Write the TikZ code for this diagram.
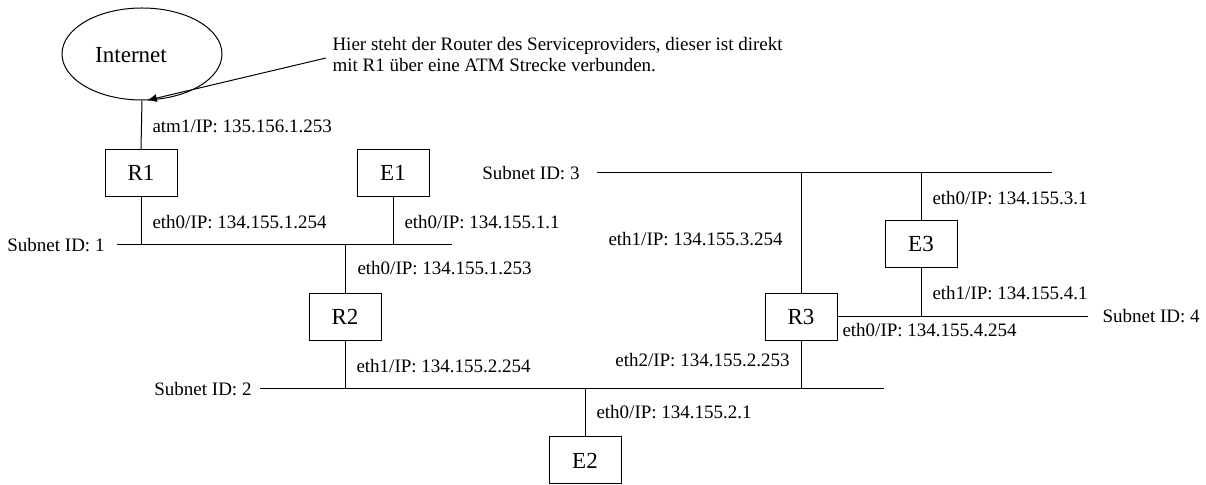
\documentclass[tikz,border=0pt]{standalone}
\usepackage{fontspec}
\setmainfont{Liberation Serif}
\usetikzlibrary{shapes.geometric,arrows.meta}

\newlength{\du}
\setlength{\du}{0.5pt}

\tikzset{
  hostbox/.style={draw, minimum width=72\du, minimum height=47\du, inner sep=0pt,
    font=\fontsize{11.5}{13}\selectfont},
  netcloud/.style={draw, ellipse, minimum width=160\du, minimum height=92\du, inner sep=0pt},
  bigtext/.style={inner sep=0pt, font=\fontsize{11.5}{13}\selectfont},
  iflabel/.style={inner sep=0pt, font=\fontsize{9.5}{10.5}\selectfont},
}

\begin{document}
\begin{tikzpicture}[line width=0.5pt]
\pgftransformxscale{1.000000}
\pgftransformyscale{-1.000000}
\useasboundingbox (0\du,0\du) rectangle (1206\du,485\du);
% internet and note
\node[netcloud] (inet) at (142\du,54\du){};
\node[bigtext] (inettext) at (131\du,55\du){Internet};
\node[iflabel, anchor=west, align=left] (note) at (332\du,55\du){Hier steht der Router des Serviceproviders, dieser ist direkt\\mit R1 über eine ATM Strecke verbunden.};
\draw[-{Latex[length=5pt,width=4pt]}] ([xshift=-6\du,yshift=3\du]note.west)--(inet.-84);
% hosts
\node[hostbox] (R1) at (141\du,173\du){R1};
\node[hostbox] (E1) at (393\du,173\du){E1};
\node[hostbox] (R2) at (345\du,317\du){R2};
\node[hostbox] (R3) at (801\du,317\du){R3};
\node[hostbox] (E2) at (585\du,460.5\du){E2};
\node[hostbox] (E3) at (921\du,244.5\du){E3};
% subnets
\coordinate (s1w) at (117\du,245\du);
\coordinate (s1e) at (452\du,245\du);
\coordinate (s2w) at (260\du,389\du);
\coordinate (s2e) at (884\du,389\du);
\coordinate (s3w) at (597\du,173\du);
\coordinate (s3e) at (1052\du,173\du);
\coordinate (s4e) at (1088\du,317\du);
\draw (s1w)--(s1e);
\draw (s2w)--(s2e);
\draw (s3w)--(s3e);
\draw (R3.east)--(s4e);
\node[iflabel, anchor=east] (sub1) at (105\du,245\du){Subnet ID: 1};
\node[iflabel, anchor=east] (sub2) at (252\du,389\du){Subnet ID: 2};
\node[iflabel, anchor=east] (sub3) at (580\du,173\du){Subnet ID: 3};
\node[iflabel, anchor=west] (sub4) at (1102\du,316\du){Subnet ID: 4};
% links
\draw (inet.south)--(R1.north);
\draw (R1.south)--(R1 |- s1w);
\draw (E1.south)--(E1 |- s1w);
\draw (R2.north)--(R2 |- s1w);
\draw (R2.south)--(R2 |- s2w);
\draw (E2.north)--(E2 |- s2w);
\draw (R3.south)--(R3 |- s2w);
\draw (R3.north)--(R3 |- s3w);
\draw (E3.north)--(E3 |- s3w);
\draw (E3.south)--(E3 |- s4e);
% interface addresses
\node[iflabel, anchor=west] (atm1) at (152\du,126\du){atm1/IP: 135.156.1.253};
\node[iflabel, anchor=west] (r1eth0) at (152\du,222\du){eth0/IP: 134.155.1.254};
\node[iflabel, anchor=west] (e1eth0) at (404\du,222\du){eth0/IP: 134.155.1.1};
\node[iflabel, anchor=west] (r2eth0) at (357\du,268\du){eth0/IP: 134.155.1.253};
\node[iflabel, anchor=west] (r2eth1) at (356\du,366\du){eth1/IP: 134.155.2.254};
\node[iflabel, anchor=east] (r3eth2) at (790\du,360\du){eth2/IP: 134.155.2.253};
\node[iflabel, anchor=west] (e2eth0) at (596\du,412\du){eth0/IP: 134.155.2.1};
\node[iflabel, anchor=west] (r3eth1) at (608\du,239\du){eth1/IP: 134.155.3.254};
\node[iflabel, anchor=west] (e3eth0) at (932\du,198\du){eth0/IP: 134.155.3.1};
\node[iflabel, anchor=west] (e3eth1) at (932\du,293\du){eth1/IP: 134.155.4.1};
\node[iflabel, anchor=west] (r3eth0) at (842\du,330\du){eth0/IP: 134.155.4.254};
\end{tikzpicture}
\end{document}
